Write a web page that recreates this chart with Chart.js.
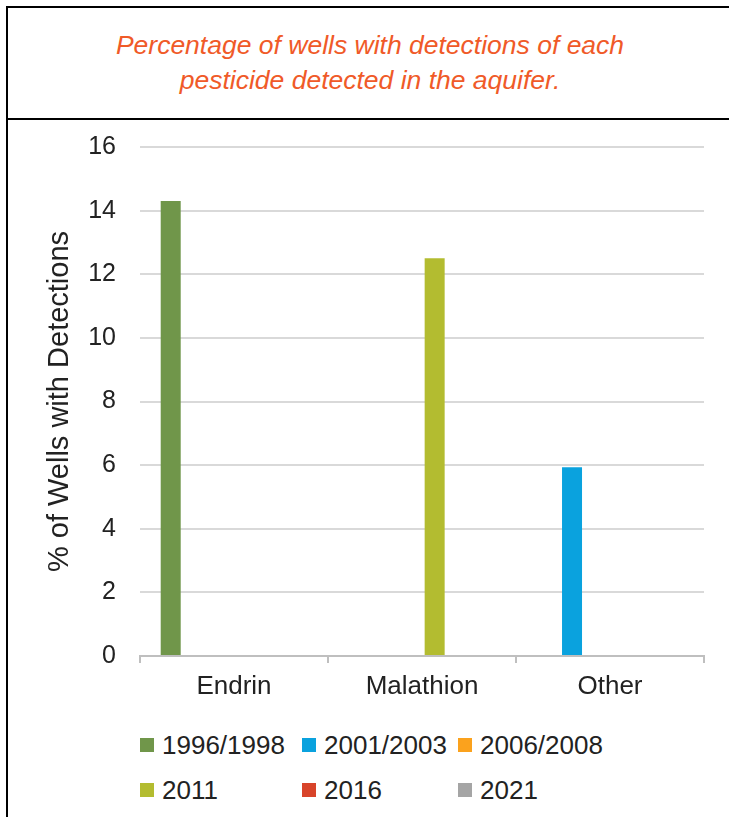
<!DOCTYPE html>
<html><head><meta charset="utf-8">
<script src="https://cdn.jsdelivr.net/npm/chart.js@4.4.1/dist/chart.umd.min.js"></script>
<style>
html,body{margin:0;padding:0;background:#fff;width:729px;height:817px;overflow:hidden;font-family:"Liberation Sans",Arial,sans-serif;}
#frame{position:absolute;left:6px;top:6px;width:740px;height:830px;border:2px solid #000;box-sizing:border-box;}
#divider{position:absolute;left:6px;top:118px;width:740px;height:2px;background:#000;}
#title{position:absolute;left:6px;top:8px;width:728px;height:110px;display:flex;align-items:center;justify-content:center;text-align:center;color:#F05A28;font-style:italic;font-size:26.5px;line-height:35px;}
#wrap{position:absolute;left:0;top:120px;width:729px;height:600px;}
#legend{position:absolute;left:0;top:720px;width:729px;height:97px;}
.item{position:absolute;height:30px;display:flex;align-items:center;font-size:26px;color:#222;white-space:nowrap;}
.sw{width:14px;height:14px;margin-right:8px;flex:none;}
</style></head>
<body>
<div id="frame"></div>
<div id="divider"></div>
<div id="title">Percentage of wells with detections of each<br>pesticide detected in the aquifer.</div>
<div id="wrap"><canvas id="c" width="729" height="600"></canvas></div>
<div id="legend"></div>
<script>
const categories = ['Endrin', 'Malathion', 'Other'];
const seriesNames = ['1996/1998', '2001/2003', '2006/2008', '2011', '2016', '2021'];
const v1996_1998 = [14.3, 0, 0];
const v2001_2003 = [0, 0, 5.93];
const v2006_2008 = [0, 0, 0];
const v2011 = [0, 12.5, 0];
const v2016 = [0, 0, 0];
const v2021 = [0, 0, 0];
const yAxisTitle = '% of Wells with Detections';
const yMin = 0, yMax = 16, yStep = 2;

const seriesValues = [v1996_1998, v2001_2003, v2006_2008, v2011, v2016, v2021];
const seriesColors = ['#70964A', '#0AA2DE', '#FBA21D', '#B3BC30', '#D8442A', '#A5A5A5'];
const FONT = 'Liberation Sans, Arial, sans-serif';
const TXT = '#222';

const chart = new Chart(document.getElementById('c'), {
  type: 'bar',
  data: {
    labels: categories,
    datasets: seriesNames.map((n, i) => ({
      label: n, data: seriesValues[i], backgroundColor: seriesColors[i], borderWidth: 0
    }))
  },
  options: {
    responsive: false, animation: false, devicePixelRatio: 1,
    layout: { padding: { top: 27, right: 25, left: 0, bottom: 0 } },
    plugins: { legend: { display: false }, tooltip: { enabled: false } },
    datasets: { bar: { categoryPercentage: 0.808, barPercentage: 0.79 } },
    scales: {
      x: {
        grid: { display: true, drawOnChartArea: false, drawTicks: true, tickLength: 7, color: '#bfbfbf', lineWidth: 2 },
        border: { display: true, color: '#bfbfbf', width: 2 },
        ticks: { color: TXT, font: { size: 26, family: FONT }, padding: 8 },
        afterFit: s => { s.height = 64; }
      },
      y: {
        min: yMin, max: yMax,
        ticks: { stepSize: yStep, color: TXT, font: { size: 25, family: FONT }, padding: 24 },
        grid: { color: '#d9d9d9', lineWidth: 2, drawTicks: false },
        border: { display: false },
        title: { display: true, text: yAxisTitle, color: TXT, font: { size: 29, family: FONT }, padding: { top: 43, bottom: 0 } },
        afterFit: s => { s.width = 140; s.paddingTop = 0; s.paddingBottom = 0; }
      }
    }
  }
});

// HTML legend built from the series arrays
const colLeft = [140, 302, 458];
const rowCenter = [25, 70];
const lg = document.getElementById('legend');
seriesNames.forEach((n, i) => {
  const d = document.createElement('div');
  d.className = 'item';
  d.style.left = colLeft[i % 3] + 'px';
  d.style.top = (rowCenter[Math.floor(i / 3)] - 15) + 'px';
  const sw = document.createElement('span');
  sw.className = 'sw';
  sw.style.background = seriesColors[i];
  const t = document.createElement('span');
  t.textContent = n;
  d.appendChild(sw); d.appendChild(t);
  lg.appendChild(d);
});
</script>
</body></html>
